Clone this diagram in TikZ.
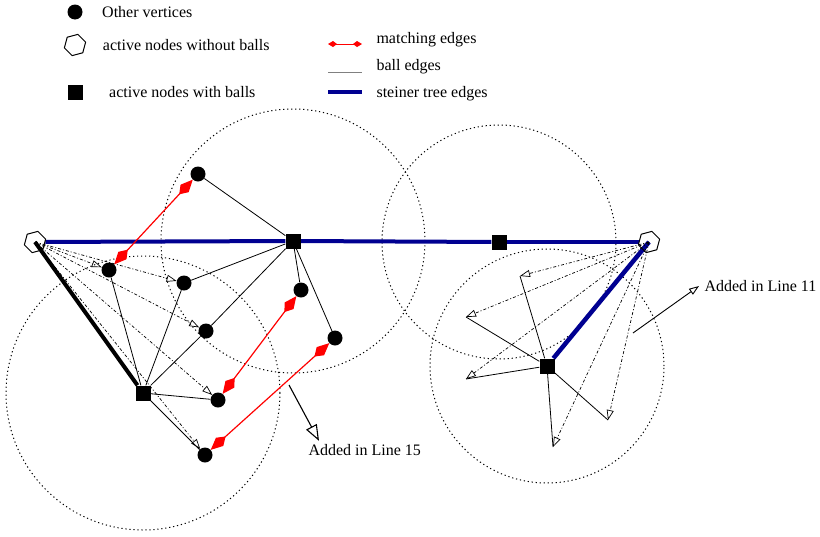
\documentclass[tikz,border=0pt]{standalone}
\usepackage{fontspec}
\setmainfont{Liberation Serif}
\usetikzlibrary{arrows.meta, positioning, shapes.geometric, backgrounds}
\definecolor{steinerblue}{RGB}{0,0,145}

\begin{document}
\begin{tikzpicture}[
  x=1pt, y=-1pt,
  font=\fontsize{16}{19}\selectfont,
  vertex/.style={circle, fill=black, inner sep=0pt, minimum size=15pt},
  ballnode/.style={rectangle, fill=black, inner sep=0pt, minimum size=15pt},
  freenode/.style={regular polygon, regular polygon sides=6, regular polygon rotate=15,
    draw=black, inner sep=0pt, minimum size=22pt, line width=1pt},
  ballcircle/.style={dash pattern=on 1.2pt off 2.8pt, line width=1pt},
  balledge/.style={line width=0.8pt},
  steineredge/.style={line width=4pt, steinerblue},
  matchedge/.style={{Kite[length=20pt,width=11pt,inset=8pt]}-{Kite[length=20pt,width=11pt,inset=8pt]},
    red, line width=1.2pt},
  addedge/.style={-{Triangle[open, length=10pt, width=7pt]}, line width=0.7pt,
    dash pattern=on 3pt off 2pt on 1pt off 2pt},
  notesmall/.style={-{Triangle[open, length=10pt, width=7pt]}, line width=0.9pt},
  notebig/.style={-{Triangle[open, length=16pt, width=12pt]}, line width=1.1pt}
]
\useasboundingbox (0,0) rectangle (820,536);

% legend
\node[vertex] (lv) at (75,12) {};
\node[right=16pt of lv] (lvt) {Other vertices};
\node[freenode] (lf) at (75,45) {};
\node[right=14pt of lf] (lft) {active nodes without balls};
\node[ballnode] (lb) at (75,92) {};
\node[right=23pt of lb] (lbt) {active nodes with balls};
\coordinate (lm1) at (328,44);  \coordinate (lm2) at (362,44);
\coordinate (le1) at (328,72);  \coordinate (le2) at (362,72);
\coordinate (ls1) at (328,92);  \coordinate (ls2) at (362,92);
\draw[red, line width=1pt, {Kite[length=9pt,width=6pt,inset=4pt]}-{Kite[length=9pt,width=6pt,inset=4pt]}] (lm1) -- (lm2);
\draw[gray, line width=0.8pt] (le1) -- (le2);
\draw[steineredge] (ls1) -- (ls2);
\node[anchor=west] (lmt) at (373,40) {matching edges};
\node[anchor=west] (let) at (373,67) {ball edges};
\node[anchor=west] (lst) at (373,94) {steiner tree edges};

% active nodes
\node[freenode] (h1) at (35,242) {};
\node[freenode] (h2) at (649,242) {};
\node[ballnode] (s1) at (293,241) {};
\node[ballnode] (s2) at (499,242) {};
\node[ballnode] (s3) at (143,393) {};
\node[ballnode] (s4) at (547,366) {};

% other vertices
\node[vertex] (v1) at (198,174) {};
\node[vertex] (v2) at (109,270) {};
\node[vertex] (v3) at (184,283) {};
\node[vertex] (v4) at (206,331) {};
\node[vertex] (v5) at (218,400) {};
\node[vertex] (v6) at (205,455) {};
\node[vertex] (v7) at (301,290) {};
\node[vertex] (v8) at (335,338) {};

% ball ends on the right
\coordinate (p1) at (520,276);
\coordinate (p2) at (466,317);
\coordinate (p3) at (466,379);
\coordinate (p4) at (553,447);
\coordinate (p5) at (608,420);

\begin{scope}[on background layer]
  \draw[ballcircle] (s1) circle[radius=132pt];
  \draw[ballcircle] (s2) circle[radius=117pt];
  \draw[ballcircle] (s3) circle[radius=137pt];
  \draw[ballcircle] (s4) circle[radius=117pt];
  \draw[steineredge] (h1) -- (s1);
  \draw[steineredge] (s1) -- (s2);
  \draw[steineredge] (s2) -- (h2);
  \draw[steineredge, line width=4.5pt] (h2.center) -- (s4);
  \draw[line width=4pt] (h1.center) -- (s3);
\end{scope}

\foreach \v in {v1,v3,v4,v7,v8} \draw[balledge] (s1) -- (\v);
\foreach \v in {v2,v3,v4,v5,v6} \draw[balledge] (s3) -- (\v);
\foreach \v in {v2,v3,v4,v5,v6} \draw[addedge] (h1.center) -- (\v);
\foreach \p in {p1,p2,p3,p4,p5} {
  \draw[balledge] (s4) -- (\p);
  \draw[addedge] (h2.center) -- (\p);
}

\draw[matchedge] (v1) -- (v2);
\draw[matchedge] (v7) -- (v5);
\draw[matchedge] (v8) -- (v6);

% notes
\node[anchor=west] (lbl15) at (305,450) {Added in Line 15};
\node[anchor=west] (lbl11) at (701,286) {Added in Line 11};
\coordinate (c15) at (289,385);
\coordinate (c11) at (633,333);
\draw[notebig] (c15) -- ([xshift=14pt]lbl15.north west);
\draw[notesmall] (c11) -- ([xshift=-2pt]lbl11.west);
\end{tikzpicture}
\end{document}
